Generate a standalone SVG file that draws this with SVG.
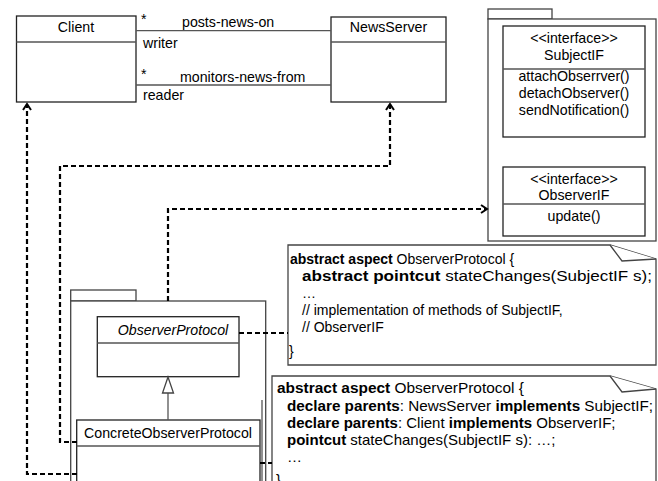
<svg xmlns="http://www.w3.org/2000/svg" width="658" height="481" viewBox="0 0 658 481">
<style>
text{font-family:"Liberation Sans",Arial,sans-serif;font-size:14.2px;fill:#000}
.c{text-anchor:middle}
.box{fill:#fff;stroke:#222;stroke-width:1.3}
.sep{stroke:#555;stroke-width:1.3;fill:none}
.assoc{stroke:#555;stroke-width:1.3;fill:none}
.pkg{fill:#fff;stroke:#444;stroke-width:1.3}
.note{fill:#fff;stroke:#444;stroke-width:1.3}
.nt{font-size:14px}
.nt2{font-size:15px}
.b{font-weight:bold}
.dash{stroke:#000;stroke-width:2.2;fill:none;stroke-dasharray:5 3}
</style>
<defs>
<marker id="open" markerUnits="userSpaceOnUse" markerWidth="12" markerHeight="12" viewBox="0 0 12 12" refX="9" refY="6" orient="auto">
<path d="M3,2 L9,6 L3,10" fill="none" stroke="#000" stroke-width="2"/>
</marker>
<clipPath id="n1clip"><rect x="288" y="245" width="370" height="120"/></clipPath>
</defs>

<g id="pkg-interfaces">
<rect class="pkg" x="488" y="9" width="64" height="10"/>
<rect class="pkg" x="488" y="19" width="168" height="222"/>
</g>

<g id="SubjectIF">
<rect class="box" x="503" y="26" width="142" height="111"/>
<line class="sep" x1="503" y1="69" x2="645" y2="69"/>
<text class="c" x="574" y="43">&lt;&lt;interface&gt;&gt;</text>
<text class="c" x="574" y="60">SubjectIF</text>
<text class="c" x="574" y="81">attachObserrver()</text>
<text class="c" x="574" y="98">detachObserver()</text>
<text class="c" x="574" y="115">sendNotification()</text>
</g>

<g id="ObserverIF">
<rect class="box" x="503" y="167" width="142" height="69"/>
<line class="sep" x1="503" y1="204" x2="645" y2="204"/>
<text class="c" x="574" y="184">&lt;&lt;interface&gt;&gt;</text>
<text class="c" x="574" y="200">ObserverIF</text>
<text class="c" x="574" y="221">update()</text>
</g>

<g id="Client">
<rect class="box" x="16.5" y="16" width="119.5" height="86"/>
<line class="sep" x1="16.5" y1="42" x2="136" y2="42"/>
<text class="c" x="76" y="32">Client</text>
</g>

<g id="NewsServer">
<rect class="box" x="331" y="17" width="115" height="85"/>
<line class="sep" x1="331" y1="42" x2="446" y2="42"/>
<text class="c" x="388.5" y="31.5">NewsServer</text>
</g>

<g id="pkg-protocol">
<rect class="pkg" x="70.7" y="290" width="65.3" height="11"/>
<rect class="pkg" x="70.7" y="301" width="195" height="195"/>
<line class="sep" x1="262" y1="400" x2="262" y2="481"/>
</g>

<g id="ObserverProtocol">
<rect class="box" x="97.3" y="316.7" width="141.7" height="60"/>
<line class="sep" x1="97.3" y1="343" x2="239" y2="343"/>
<text class="c" x="173" y="335" font-style="italic">ObserverProtocol</text>
</g>

<g id="ConcreteObserverProtocol">
<rect class="box" x="76.7" y="420" width="183.3" height="70"/>
<line class="sep" x1="76.7" y1="446" x2="260" y2="446"/>
<text class="c" x="168" y="438">ConcreteObserverProtocol</text>
</g>

<g id="note1">
<path class="note" d="M288,245 H610 L656,259 V365 H288 Z"/>
<path class="note" d="M610,245 L622,261 L656,259"/>
<g clip-path="url(#n1clip)">
<text class="nt" x="290" y="264"><tspan class="b">abstract aspect</tspan> ObserverProtocol {</text>
<text class="nt" x="302" y="281" font-size="15" textLength="350" lengthAdjust="spacingAndGlyphs"><tspan class="b">abstract pointcut</tspan> stateChanges(SubjectIF s);</text>
<text class="nt" x="302" y="298">…</text>
<text class="nt" x="302" y="315">// implementation of methods of SubjectIF,</text>
<text class="nt" x="302" y="332">// ObserverIF</text>
<text class="nt" x="289" y="356">}</text>
</g>
</g>

<g id="note2">
<path class="note" d="M272,376 H610 L656,389 V495 H272 Z"/>
<path class="note" d="M610,376 L622,392 L656,389"/>
<text class="nt2" x="277" y="393" textLength="247" lengthAdjust="spacingAndGlyphs"><tspan class="b">abstract aspect</tspan> ObserverProtocol {</text>
<text class="nt2" x="287" y="410.5" textLength="366" lengthAdjust="spacingAndGlyphs"><tspan class="b">declare parents</tspan>: NewsServer <tspan class="b">implements</tspan> SubjectIF;</text>
<text class="nt2" x="287" y="428"><tspan class="b">declare parents</tspan>: Client <tspan class="b">implements</tspan> ObserverIF;</text>
<text class="nt2" x="287" y="445"><tspan class="b">pointcut</tspan> stateChanges(SubjectIF s): …;</text>
<text class="nt2" x="287" y="462">…</text>
<text class="nt2" x="276" y="485">}</text>
</g>

<g id="connectors">
<line class="assoc" x1="136" y1="30.7" x2="331" y2="30.7"/>
<line class="assoc" x1="136" y1="85" x2="331" y2="85"/>
<text x="141" y="24">*</text>
<text x="182" y="26.5">posts-news-on</text>
<text x="143" y="47.5">writer</text>
<text x="141" y="79">*</text>
<text x="180" y="81.5">monitors-news-from</text>
<text x="143" y="100">reader</text>
<path class="dash" d="M77,474 H27 V104" marker-end="url(#open)"/>
<path class="dash" d="M77,442 H60 V166 H390 V104" marker-end="url(#open)"/>
<path class="dash" d="M168,301 V209 H487" marker-end="url(#open)"/>
<path class="dash" d="M239,333 H288"/>
<path class="dash" d="M260,463 H272"/>
<line class="sep" x1="168" y1="420" x2="168" y2="393"/>
<polygon points="168,377 162.5,393 173.5,393" fill="#fff" stroke="#444" stroke-width="1.3"/>
</g>
</svg>
